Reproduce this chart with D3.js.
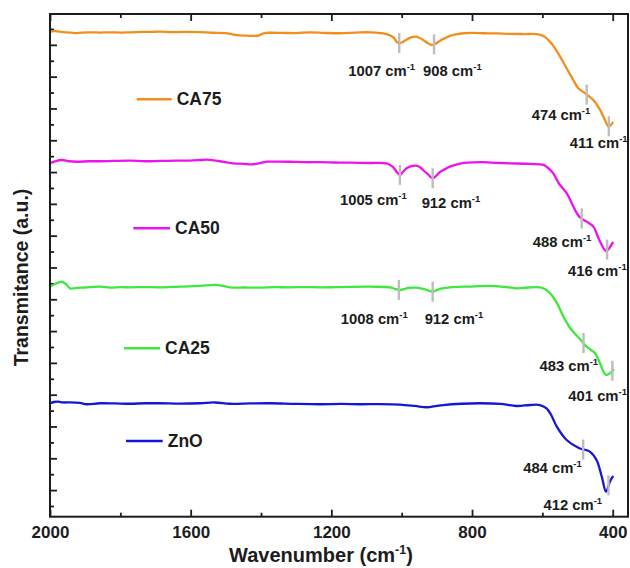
<!DOCTYPE html>
<html><head><meta charset="utf-8">
<script src="https://cdn.jsdelivr.net/npm/d3@7"></script>
<style>html,body{margin:0;padding:0;background:#fff;} svg{display:block;}</style>
</head><body>
<script>
// FTIR transmittance spectra, stacked with vertical offsets (arbitrary units)
const seriesNames = ["CA75", "CA50", "CA25", "ZnO"];
const seriesColors = ["#f28e1c", "#ee12ee", "#3ee83e", "#1616d6"];

// [wavenumber (cm-1), transmittance (a.u.)]
const ca75 = [[2000,29.83],[1986,29.86],[1966,29.81],[1950,29.78],[1929,29.74],[1910,29.77],[1890,29.79],[1858,29.77],[1830,29.79],[1800,29.77],[1772,29.79],[1740,29.81],[1710,29.82],[1687,29.83],[1650,29.80],[1620,29.81],[1573,29.80],[1540,29.76],[1502,29.74],[1480,29.65],[1460,29.59],[1440,29.58],[1417,29.56],[1405,29.60],[1397,29.69],[1385,29.75],[1374,29.76],[1340,29.75],[1300,29.74],[1261,29.79],[1220,29.75],[1175,29.73],[1130,29.77],[1090,29.79],[1060,29.74],[1043,29.67],[1024,29.48],[1010,29.10],[1000,29.15],[991,29.26],[975,29.45],[962,29.52],[950,29.45],[939,29.31],[925,29.10],[915,28.99],[905,29.05],[891,29.26],[877,29.42],[863,29.56],[845,29.66],[825,29.73],[800,29.75],[768,29.73],[730,29.72],[692,29.69],[650,29.68],[616,29.67],[597,29.56],[578,29.20],[555,28.47],[531,27.53],[512,26.79],[498,26.27],[479,25.96],[455,25.53],[436,24.91],[422,24.28],[412,23.86],[400,24.11]];
const ca50 = [[2000,21.55],[1986,21.67],[1967,21.76],[1945,21.68],[1924,21.65],[1890,21.68],[1858,21.68],[1820,21.70],[1773,21.72],[1730,21.68],[1687,21.70],[1640,21.72],[1602,21.72],[1570,21.76],[1554,21.78],[1535,21.74],[1517,21.68],[1480,21.55],[1450,21.52],[1423,21.49],[1400,21.58],[1384,21.65],[1350,21.66],[1318,21.65],[1275,21.62],[1232,21.62],[1190,21.60],[1147,21.59],[1090,21.57],[1043,21.55],[1025,21.32],[1012,20.95],[1005,20.82],[995,21.05],[985,21.26],[962,21.40],[950,21.33],[939,21.13],[925,20.85],[912,20.61],[900,20.80],[891,21.01],[875,21.20],[863,21.34],[840,21.50],[815,21.59],[768,21.62],[730,21.58],[692,21.55],[635,21.51],[597,21.45],[584,21.26],[569,20.92],[552,20.25],[531,19.67],[495,18.19],[474,17.88],[455,17.57],[438,16.73],[419,16.04],[400,16.56]];
const ca25 = [[2000,13.79],[1986,13.96],[1967,14.11],[1955,13.96],[1943,13.69],[1920,13.72],[1900,13.74],[1858,13.79],[1829,13.73],[1800,13.76],[1773,13.75],[1730,13.77],[1687,13.75],[1630,13.80],[1574,13.84],[1526,13.90],[1488,13.75],[1450,13.74],[1403,13.73],[1360,13.76],[1318,13.75],[1275,13.77],[1232,13.75],[1190,13.76],[1147,13.78],[1090,13.79],[1033,13.75],[1020,13.66],[1005,13.58],[990,13.66],[982,13.71],[957,13.73],[934,13.62],[912,13.48],[900,13.58],[885,13.68],[863,13.75],[810,13.80],[749,13.84],[700,13.76],[673,13.69],[640,13.74],[607,13.75],[593,13.65],[578,13.38],[559,12.77],[540,11.91],[519,11.13],[495,10.55],[474,10.02],[450,9.60],[436,8.97],[419,8.24],[398,8.55]];
const zno = [[2000,6.46],[1989,6.54],[1976,6.56],[1963,6.51],[1943,6.52],[1915,6.48],[1896,6.40],[1858,6.46],[1815,6.45],[1773,6.43],[1730,6.46],[1687,6.46],[1630,6.44],[1574,6.46],[1531,6.51],[1488,6.43],[1430,6.45],[1374,6.46],[1300,6.42],[1232,6.40],[1170,6.42],[1119,6.40],[1060,6.41],[1005,6.38],[962,6.29],[929,6.21],[900,6.30],[882,6.35],[830,6.43],[777,6.46],[720,6.42],[673,6.29],[635,6.35],[607,6.35],[588,6.14],[575,5.72],[559,4.99],[531,4.15],[495,3.63],[465,3.42],[446,2.89],[431,1.84],[419,0.90],[408,1.53],[400,1.84]];
const spectra = [ca75, ca50, ca25, zno];

// Assigned band positions (cm-1)
const peaksCA75 = [1007, 908, 474, 411];
const peaksCA50 = [1005, 912, 488, 416];
const peaksCA25 = [1008, 912, 483, 401];
const peaksZnO = [484, 412];
const peaks = [peaksCA75, peaksCA50, peaksCA25, peaksZnO];

// Axis ticks
const xMajorTicks = [2000, 1600, 1200, 800, 400];
const xMinorTicks = [1800, 1400, 1000, 600];
const yTickValues = d3.range(0, 31);

// Label placement: [x offset from band marker, baseline y]
const peakLabelLayout = [
  [[-51, 76], [-11, 76], [-55, 120], [-39, 148]],
  [[-60, 205], [-11, 208], [-49, 247], [-39, 276]],
  [[-58, 324], [-8, 324], [-44, 371], [-44, 401]],
  [[-60, 473], [-65, 510]]
];
// Legend placement: [line x, line y, line length]
const legendLayout = [[136.7, 99.3, 35], [133.3, 228.3, 36.7], [124, 348.3, 36], [126, 441, 36.7]];

const W = 630, H = 568;
const plotL = 50, plotR = 628, plotT = 14, plotB = 516.7;
const font = "'Liberation Sans', Arial, Helvetica, sans-serif";
const ink = "#1c1c1c";

const svg = d3.select("body").append("svg").attr("width", W).attr("height", H)
  .style("background", "#fff");

const x = d3.scaleLinear().domain([2000, 356.5]).range([plotL, plotR]);
const y = d3.scaleLinear().domain([-0.673, 30.94]).range([plotB, plotT]);

function valueAt(pts, wn) {
  for (let i = 0; i < pts.length - 1; i++) {
    const [a, va] = pts[i], [b, vb] = pts[i + 1];
    if (wn <= a && wn >= b) return va + (a - wn) / (a - b) * (vb - va);
  }
  return pts[pts.length - 1][1];
}

// Axes (ticks point inward)
function styleAxis(g) {
  g.select(".domain").remove();
  g.selectAll(".tick line").attr("stroke", ink).attr("stroke-width", 1.8);
  g.selectAll("text").attr("font-family", font).attr("font-weight", "bold")
    .attr("font-size", "17px").attr("fill", ink);
}
svg.append("g").attr("transform", `translate(0,${plotB})`)
  .call(d3.axisBottom(x).tickValues(xMajorTicks).tickSize(-7).tickPadding(9.3).tickFormat(d3.format("d")))
  .call(styleAxis);
svg.append("g").attr("transform", `translate(0,${plotB})`)
  .call(d3.axisBottom(x).tickValues(xMinorTicks).tickSize(-4).tickFormat(""))
  .call(styleAxis);
svg.append("g").attr("transform", `translate(0,${plotT})`)
  .call(d3.axisTop(x).tickValues(xMajorTicks).tickSize(-7).tickFormat(""))
  .call(styleAxis);
svg.append("g").attr("transform", `translate(0,${plotT})`)
  .call(d3.axisTop(x).tickValues(xMinorTicks).tickSize(-4).tickFormat(""))
  .call(styleAxis);
svg.append("g").attr("transform", `translate(${plotL},0)`)
  .call(d3.axisLeft(y).tickValues(yTickValues.filter(d => d % 2 === 1)).tickSize(-7).tickFormat(""))
  .call(styleAxis);
svg.append("g").attr("transform", `translate(${plotL},0)`)
  .call(d3.axisLeft(y).tickValues(yTickValues.filter(d => d % 2 === 0)).tickSize(-4).tickFormat(""))
  .call(styleAxis);

// Spectra
const line = d3.line().x(d => x(d[0])).y(d => y(d[1])).curve(d3.curveCatmullRom.alpha(0.5));
svg.append("g").selectAll("path").data(spectra).join("path")
  .attr("d", line).attr("fill", "none")
  .attr("stroke", (d, i) => seriesColors[i]).attr("stroke-width", 2.3)
  .attr("stroke-linejoin", "round").attr("stroke-linecap", "round");

// Band markers and their labels
function cmLabel(g, xPos, yPos, value, size, supSize, supShift) {
  const t = g.append("text").attr("x", xPos).attr("y", yPos)
    .attr("font-family", font).attr("font-weight", "bold").attr("fill", ink)
    .attr("font-size", size + "px");
  t.append("tspan").text(value + " cm");
  t.append("tspan").attr("font-size", supSize + "px").attr("dy", -supShift).text("-1");
  return t;
}
const ann = svg.append("g");
peaks.forEach((list, si) => {
  list.forEach((wn, pi) => {
    const px = x(wn), py = y(valueAt(spectra[si], wn));
    ann.append("line").attr("x1", px).attr("x2", px).attr("y1", py - 10).attr("y2", py + 10)
      .attr("stroke", "#bdbdbd").attr("stroke-width", 2.4);
    const [dx, by] = peakLabelLayout[si][pi];
    cmLabel(ann, px + dx, by, wn, 14.8, 9.5, 6.5);
  });
});

// Legend entries
const leg = svg.append("g");
seriesNames.forEach((name, i) => {
  const [lx, ly, len] = legendLayout[i];
  leg.append("line").attr("x1", lx).attr("x2", lx + len).attr("y1", ly).attr("y2", ly)
    .attr("stroke", seriesColors[i]).attr("stroke-width", 2.6);
  leg.append("text").attr("x", lx + len + 5).attr("y", ly + 6)
    .attr("font-family", font).attr("font-weight", "bold").attr("font-size", "17.5px")
    .attr("fill", ink).text(name);
});

// Frame
svg.append("rect").attr("x", plotL).attr("y", plotT).attr("width", plotR - plotL).attr("height", plotB - plotT)
  .attr("fill", "none").attr("stroke", ink).attr("stroke-width", 2);

// Axis titles
const xt = svg.append("text").attr("x", 321).attr("y", 562).attr("text-anchor", "middle")
  .attr("font-family", font).attr("font-weight", "bold").attr("font-size", "20px").attr("fill", ink);
xt.append("tspan").text("Wavenumber (cm");
xt.append("tspan").attr("font-size", "12.5px").attr("dy", -8.5).text("-1");
xt.append("tspan").attr("dy", 8.5).text(")");

svg.append("text").attr("transform", "translate(28,277.5) rotate(-90)").attr("text-anchor", "middle")
  .attr("font-family", font).attr("font-weight", "bold").attr("font-size", "19.5px").attr("fill", ink)
  .text("Transmitance (a.u.)");
</script>
</body></html>
